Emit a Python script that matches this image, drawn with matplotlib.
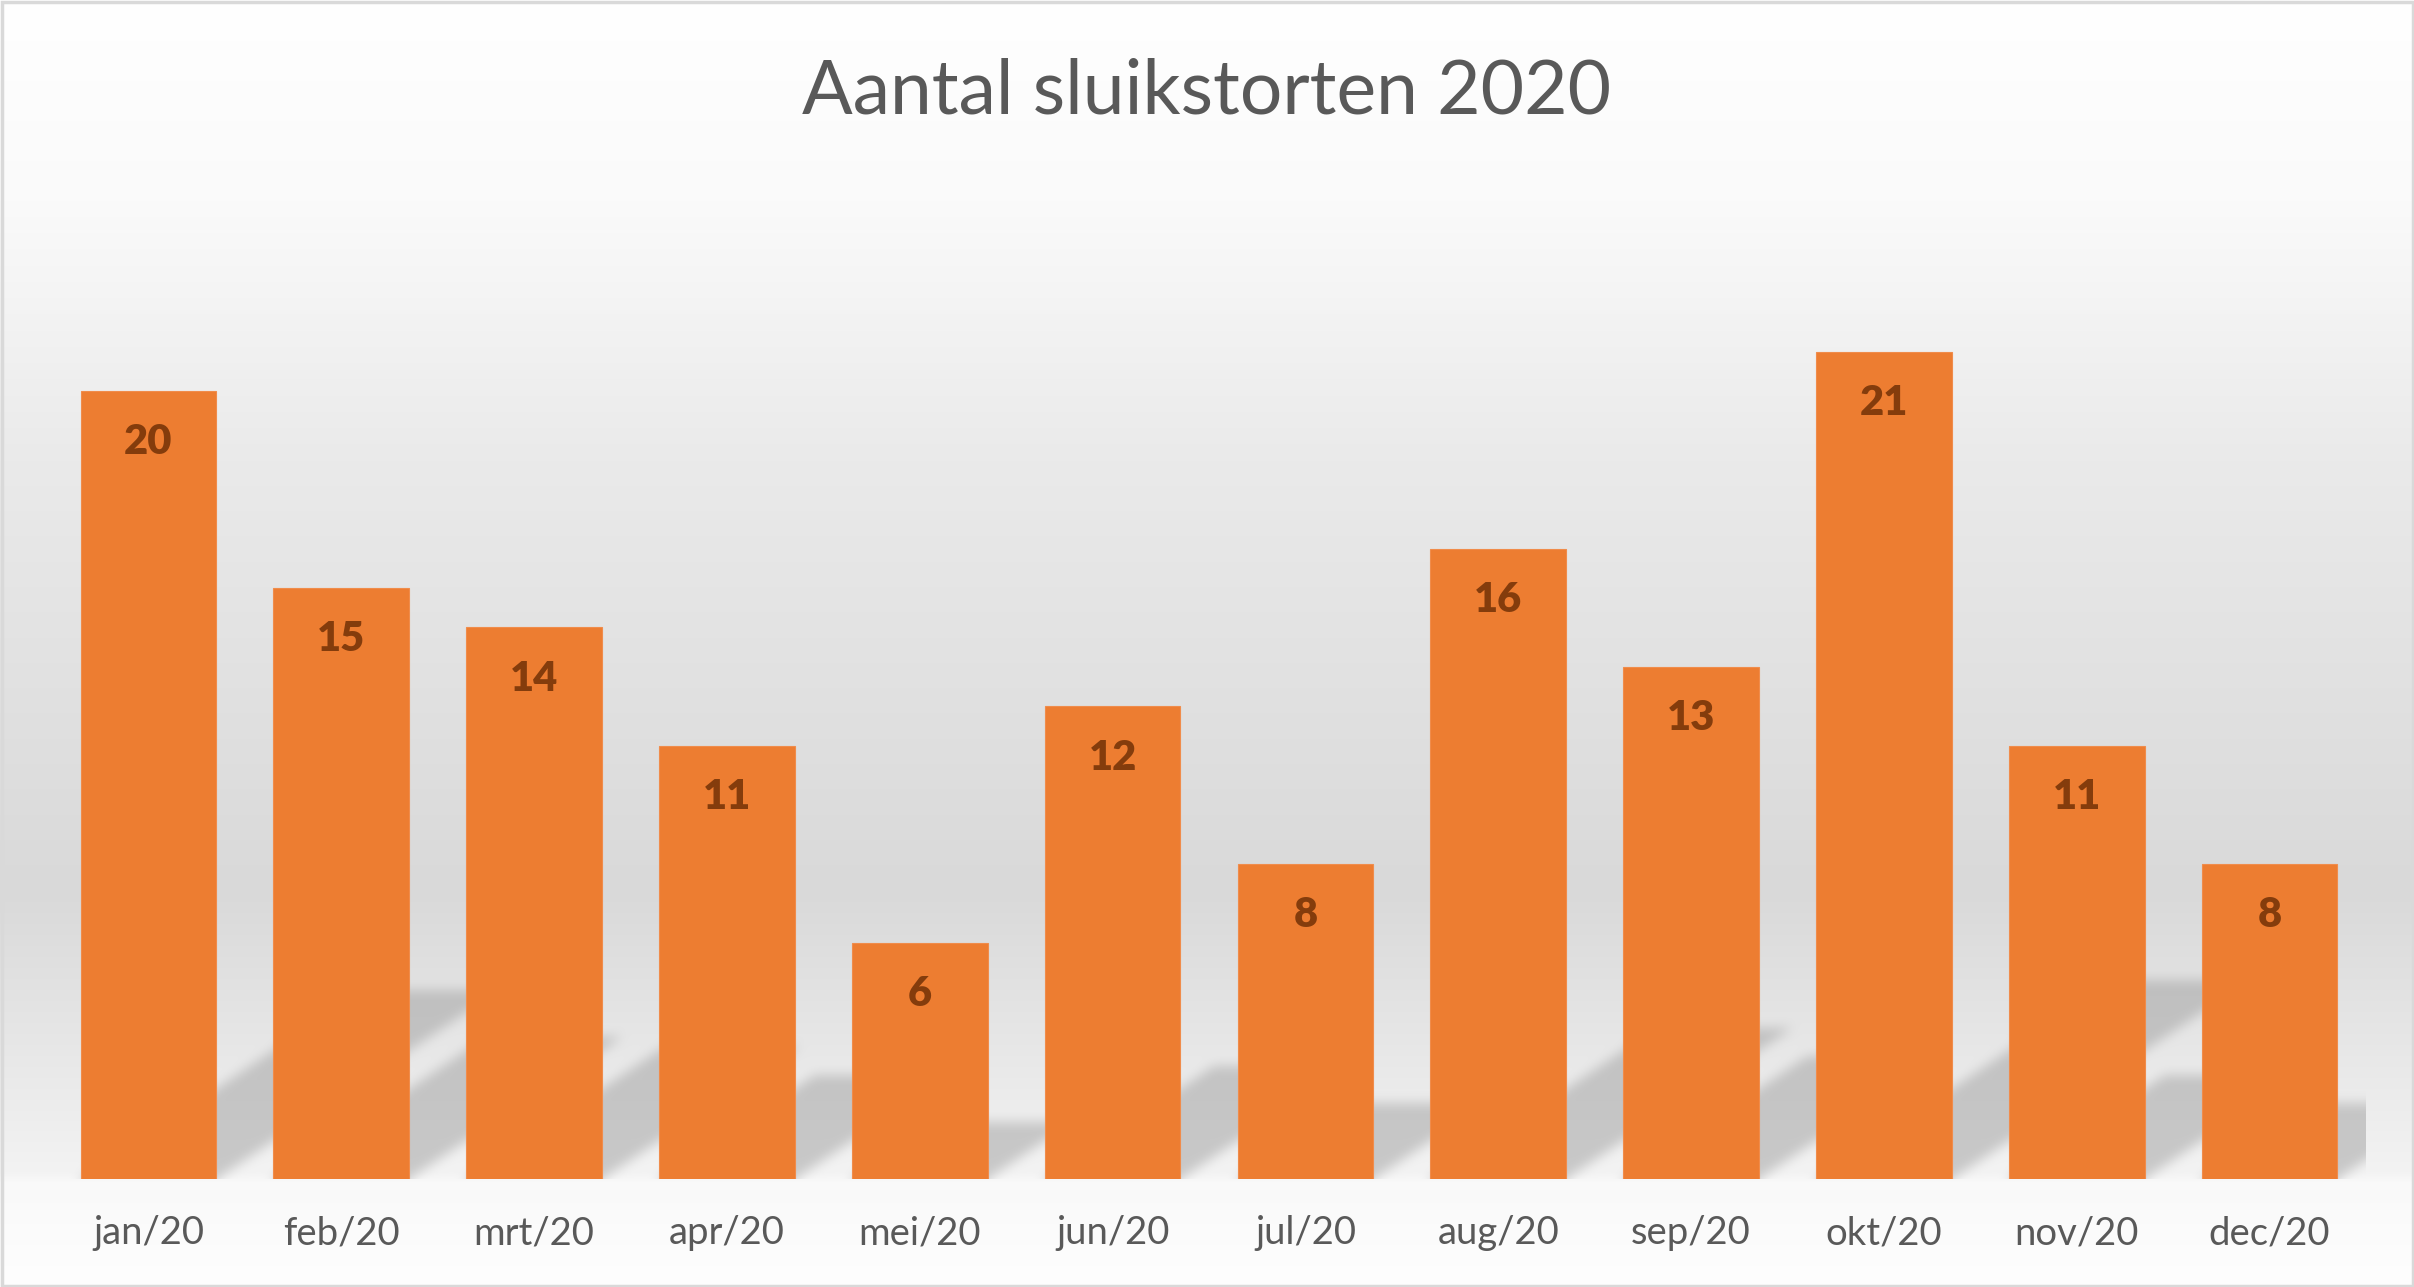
import numpy as np
from matplotlib import pyplot as plt

months = ["jan/20", "feb/20", "mrt/20", "apr/20", "mei/20", "jun/20",
          "jul/20", "aug/20", "sep/20", "okt/20", "nov/20", "dec/20"]
counts = [20, 15, 14, 11, 6, 12, 8, 16, 13, 21, 11, 8]
title = "Aantal sluikstorten 2020"

W, H, DPI = 2414, 1287, 100
BAR = "#ED7D31"
LABEL = "#843C0C"
GREY_TXT = "#595959"

plt.rcParams['font.family'] = ['Lato', 'DejaVu Sans']


def box_blur(a, r):
    # separable box blur using cumulative sums
    for axis in (0, 1):
        pad = [(0, 0), (0, 0)]
        pad[axis] = (r + 1, r)
        p = np.pad(a, pad, mode='edge')
        c = np.cumsum(p, axis=axis)
        if axis == 0:
            a = (c[2 * r + 1:, :] - c[:-2 * r - 1, :]) / (2 * r + 1)
        else:
            a = (c[:, 2 * r + 1:] - c[:, :-2 * r - 1]) / (2 * r + 1)
    return a


fig = plt.figure(figsize=(W / DPI, H / DPI), dpi=DPI)
bg = fig.add_axes([0, 0, 1, 1], zorder=0)
bg.set_axis_off()

ax = fig.add_axes([52 / W, 108 / H, (2366 - 52) / W, (1179 - 194) / H], zorder=1)
ax.set_facecolor('none')
x = np.arange(len(months))
bars = ax.bar(x, counts, width=0.704, color=BAR, edgecolor="#F08C4B", linewidth=0.8)
ax.set_xlim(-0.5, len(months) - 0.5)
ax.set_ylim(0, 25)

# background gradient (rows counted from top)
rows_top = np.array([0, 200, 460, 890, 1100, 1172, 1182, 1287])
vals = np.array([255, 250, 234, 217, 236, 243, 249, 254])
g = np.interp(np.arange(H), rows_top, vals)[::-1]  # bottom-up for origin='lower'
img = np.repeat(g[:, None], W, axis=1).astype(float)

# perspective shadows derived from the bar geometry
fig.canvas.draw()
trans = ax.transData
yy, xx = np.mgrid[0:H, 0:W] + 0.5
mask = np.zeros((H, W))
k = 1.5
for xi, v in zip(x, counts):
    (L, y0), (R, y1) = trans.transform([(xi - 0.352, 0), (xi + 0.352, v)])
    sh = 0.24 * (y1 - y0)
    h = yy - y0
    hc = np.clip(h, 0, None)
    inside = (h >= -6) & (h <= sh) & (xx - k * hc >= L) & (xx - k * hc <= R)
    m = box_blur(inside.astype(float), 7)
    m = box_blur(m, 5)
    mask = 1 - (1 - mask) * (1 - 0.47 * m)

(px0, py0), (px1, py1) = ax.transAxes.transform([(0, 0), (1, 1)])
clip = (xx >= px0) & (xx <= px1) & (yy >= py0)
mask = mask * clip
img = img - mask * (img - 153)
img = np.clip(img, 0, 255) / 255.0
bg.imshow(np.dstack([img, img, img]), origin='lower', extent=(0, W, 0, H), aspect='auto')
bg.set_xlim(0, W)
bg.set_ylim(0, H)

# border
bg.add_patch(plt.Rectangle((1.5, 1.5), W - 3, H - 3, fill=False, edgecolor="#D9D9D9", linewidth=2.5))

for rect, v in zip(bars, counts):
    ax.annotate(str(v), (rect.get_x() + rect.get_width() / 2, v), xytext=(0, -37),
                textcoords='offset points', ha='center', va='center',
                fontsize=30, fontweight='heavy', color=LABEL)

ax.set_xticks(x)
ax.set_xticklabels(months, fontsize=27.5, color=GREY_TXT)
ax.tick_params(axis='x', length=0, pad=26)
ax.set_yticks([])
for s in ax.spines.values():
    s.set_visible(False)

fig.text(0.5, 1 - 92 / H, title, ha='center', va='center', fontsize=54, color=GREY_TXT)

fig.savefig("out.png", dpi=DPI)
